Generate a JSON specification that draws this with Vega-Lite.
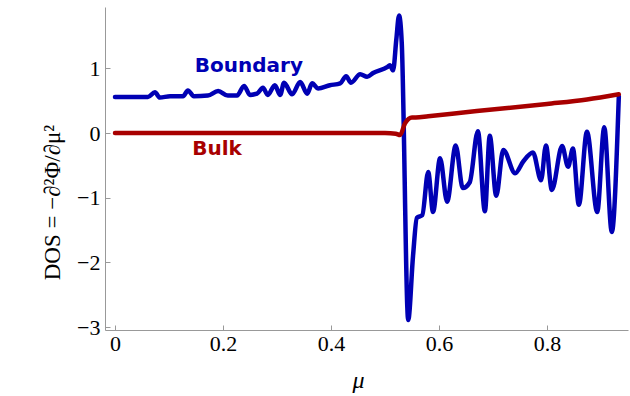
{
  "$schema": "https://vega.github.io/schema/vega-lite/v6.json",
  "autosize": "none",
  "width": 523,
  "height": 323,
  "padding": {"left": 105, "top": 7, "right": 2, "bottom": 66},
  "background": "white",
  "config": {"view": {"stroke": null}},
  "datasets": {
    "curves": [
      {"series": "Boundary", "mu": 0.000, "dos": 0.56},
      {"series": "Boundary", "mu": 0.061, "dos": 0.56},
      {"series": "Boundary", "mu": 0.074, "dos": 0.63},
      {"series": "Boundary", "mu": 0.083, "dos": 0.55},
      {"series": "Boundary", "mu": 0.102, "dos": 0.57},
      {"series": "Boundary", "mu": 0.126, "dos": 0.57},
      {"series": "Boundary", "mu": 0.135, "dos": 0.66},
      {"series": "Boundary", "mu": 0.146, "dos": 0.57},
      {"series": "Boundary", "mu": 0.172, "dos": 0.58},
      {"series": "Boundary", "mu": 0.191, "dos": 0.65},
      {"series": "Boundary", "mu": 0.209, "dos": 0.58},
      {"series": "Boundary", "mu": 0.226, "dos": 0.58},
      {"series": "Boundary", "mu": 0.239, "dos": 0.73},
      {"series": "Boundary", "mu": 0.250, "dos": 0.59},
      {"series": "Boundary", "mu": 0.263, "dos": 0.61},
      {"series": "Boundary", "mu": 0.274, "dos": 0.70},
      {"series": "Boundary", "mu": 0.283, "dos": 0.59},
      {"series": "Boundary", "mu": 0.296, "dos": 0.74},
      {"series": "Boundary", "mu": 0.306, "dos": 0.59},
      {"series": "Boundary", "mu": 0.313, "dos": 0.78},
      {"series": "Boundary", "mu": 0.328, "dos": 0.60},
      {"series": "Boundary", "mu": 0.343, "dos": 0.79},
      {"series": "Boundary", "mu": 0.356, "dos": 0.61},
      {"series": "Boundary", "mu": 0.365, "dos": 0.77},
      {"series": "Boundary", "mu": 0.376, "dos": 0.69},
      {"series": "Boundary", "mu": 0.398, "dos": 0.74},
      {"series": "Boundary", "mu": 0.417, "dos": 0.77},
      {"series": "Boundary", "mu": 0.428, "dos": 0.88},
      {"series": "Boundary", "mu": 0.437, "dos": 0.78},
      {"series": "Boundary", "mu": 0.454, "dos": 0.91},
      {"series": "Boundary", "mu": 0.467, "dos": 0.87},
      {"series": "Boundary", "mu": 0.478, "dos": 0.93},
      {"series": "Boundary", "mu": 0.504, "dos": 1.02},
      {"series": "Boundary", "mu": 0.509, "dos": 1.05},
      {"series": "Boundary", "mu": 0.515, "dos": 0.97},
      {"series": "Boundary", "mu": 0.521, "dos": 1.45},
      {"series": "Boundary", "mu": 0.526, "dos": 1.82},
      {"series": "Boundary", "mu": 0.531, "dos": 1.40},
      {"series": "Boundary", "mu": 0.543, "dos": -2.89},
      {"series": "Boundary", "mu": 0.552, "dos": -1.89},
      {"series": "Boundary", "mu": 0.559, "dos": -1.31},
      {"series": "Boundary", "mu": 0.569, "dos": -1.27},
      {"series": "Boundary", "mu": 0.580, "dos": -0.60},
      {"series": "Boundary", "mu": 0.589, "dos": -1.22},
      {"series": "Boundary", "mu": 0.602, "dos": -0.39},
      {"series": "Boundary", "mu": 0.615, "dos": -1.06},
      {"series": "Boundary", "mu": 0.631, "dos": -0.19},
      {"series": "Boundary", "mu": 0.644, "dos": -0.85},
      {"series": "Boundary", "mu": 0.657, "dos": -0.76},
      {"series": "Boundary", "mu": 0.672, "dos": 0.03},
      {"series": "Boundary", "mu": 0.685, "dos": -1.21},
      {"series": "Boundary", "mu": 0.694, "dos": -0.04},
      {"series": "Boundary", "mu": 0.706, "dos": -0.97},
      {"series": "Boundary", "mu": 0.719, "dos": -0.26},
      {"series": "Boundary", "mu": 0.741, "dos": -0.62},
      {"series": "Boundary", "mu": 0.756, "dos": -0.44},
      {"series": "Boundary", "mu": 0.774, "dos": -0.30},
      {"series": "Boundary", "mu": 0.789, "dos": -0.73},
      {"series": "Boundary", "mu": 0.798, "dos": -0.19},
      {"series": "Boundary", "mu": 0.809, "dos": -0.88},
      {"series": "Boundary", "mu": 0.828, "dos": -0.20},
      {"series": "Boundary", "mu": 0.839, "dos": -0.52},
      {"series": "Boundary", "mu": 0.848, "dos": -0.24},
      {"series": "Boundary", "mu": 0.859, "dos": -1.11},
      {"series": "Boundary", "mu": 0.874, "dos": 0.02},
      {"series": "Boundary", "mu": 0.893, "dos": -1.22},
      {"series": "Boundary", "mu": 0.906, "dos": 0.09},
      {"series": "Boundary", "mu": 0.920, "dos": -1.53},
      {"series": "Boundary", "mu": 0.933, "dos": 0.57},
      {"series": "Bulk", "mu": 0.000, "dos": 0.0},
      {"series": "Bulk", "mu": 0.500, "dos": 0.0},
      {"series": "Bulk", "mu": 0.520, "dos": -0.01},
      {"series": "Bulk", "mu": 0.528, "dos": -0.03},
      {"series": "Bulk", "mu": 0.537, "dos": 0.15},
      {"series": "Bulk", "mu": 0.550, "dos": 0.24},
      {"series": "Bulk", "mu": 0.557, "dos": 0.24},
      {"series": "Bulk", "mu": 0.580, "dos": 0.26},
      {"series": "Bulk", "mu": 0.670, "dos": 0.34},
      {"series": "Bulk", "mu": 0.800, "dos": 0.45},
      {"series": "Bulk", "mu": 0.874, "dos": 0.52},
      {"series": "Bulk", "mu": 0.933, "dos": 0.60}
    ],
    "labels": [
      {"series": "Boundary", "mu": 0.248, "dos": 0.94},
      {"series": "Bulk", "mu": 0.189, "dos": -0.34}
    ]
  },
  "layer": [
    {
      "mark": {"type": "rule", "color": "#bdbdbd", "strokeWidth": 1},
      "encoding": {"y": {"datum": 0, "type": "quantitative"}}
    },
    {
      "data": {"name": "curves"},
      "mark": {"type": "line", "strokeWidth": 4.5, "interpolate": "monotone", "strokeJoin": "round", "strokeCap": "round"},
      "encoding": {
        "x": {
          "field": "mu", "type": "quantitative",
          "scale": {"domain": [-0.0185, 0.95], "nice": false, "zero": false},
          "axis": {
            "values": [0, 0.2, 0.4, 0.6, 0.8],
            "labelExpr": "datum.value == 0 ? '0' : format(datum.value, '.1f')",
            "title": "μ",
            "titleFont": "Liberation Serif", "titleFontStyle": "italic", "titleFontWeight": "normal",
            "titleFontSize": 24, "titleColor": "black", "titlePadding": 14,
            "titleX": 253,
            "labelFont": "Liberation Serif", "labelFontSize": 22, "labelColor": "black",
            "domainColor": "#999999", "tickColor": "#999999", "tickSize": -5, "labelPadding": 8,
            "grid": false
          }
        },
        "y": {
          "field": "dos", "type": "quantitative",
          "scale": {"domain": [-3.045, 1.95], "nice": false, "zero": false},
          "axis": {
            "values": [-3, -2, -1, 0, 1],
            "format": "d",
            "title": "DOS = −∂²Φ/∂μ²",
            "titleFont": "Liberation Serif", "titleFontWeight": "normal",
            "titleFontSize": 23, "titleColor": "black", "titlePadding": 12,
            "titleY": 195,
            "labelFont": "Liberation Serif", "labelFontSize": 22, "labelColor": "black",
            "domainColor": "#999999", "tickColor": "#999999", "tickSize": -5, "labelPadding": 10,
            "grid": false
          }
        },
        "color": {
          "field": "series", "type": "nominal",
          "scale": {"domain": ["Boundary", "Bulk"], "range": ["#0000b4", "#a80000"]},
          "legend": null
        }
      }
    },
    {
      "data": {"name": "labels"},
      "mark": {"type": "text", "font": "DejaVu Sans", "fontWeight": "bold", "fontSize": 20, "baseline": "alphabetic", "align": "center"},
      "encoding": {
        "x": {"field": "mu", "type": "quantitative"},
        "y": {"field": "dos", "type": "quantitative"},
        "text": {"field": "series"},
        "color": {"field": "series", "type": "nominal", "legend": null}
      }
    }
  ]
}
